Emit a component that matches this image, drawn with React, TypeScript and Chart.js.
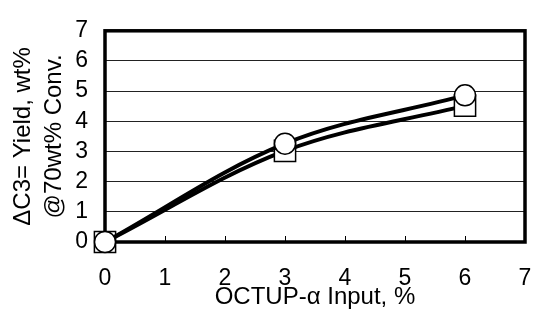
import React, { useEffect, useRef } from "react";
import { Chart, registerables } from "chart.js";

Chart.register(...registerables);

const xValues = [0, 3, 6];
const circleSeries = [0, 3.26, 4.86];
const squareSeries = [0, 3.02, 4.52];
const xTicks = [0, 1, 2, 3, 4, 5, 6, 7];
const yTicks = [0, 1, 2, 3, 4, 5, 6, 7];
const xTitle = "OCTUP-α Input, %";
const yTitle = ["ΔC3= Yield, wt%", "@70wt% Conv."];

const FONT = "'Liberation Sans', Arial, sans-serif";

const framePlugin = {
  id: "frame",
  beforeDatasetsDraw(chart: any) {
    const { ctx, chartArea } = chart;
    const { left, top, right, bottom } = chartArea;
    const xs = chart.scales.x;
    ctx.save();
    ctx.strokeStyle = "#000";
    ctx.lineWidth = 1;
    for (const v of xTicks) {
      const px = Math.round(xs.getPixelForValue(v)) + 0.5;
      ctx.beginPath();
      ctx.moveTo(px, bottom);
      ctx.lineTo(px, bottom - 6);
      ctx.stroke();
    }
    ctx.lineWidth = 3.5;
    ctx.strokeRect(left, top, right - left, bottom - top);
    ctx.restore();
  },
};

export default function App() {
  const ref = useRef<HTMLCanvasElement>(null);
  useEffect(() => {
    if (!ref.current) return;
    const toPts = (ys: number[]) => xValues.map((x, i) => ({ x, y: ys[i] }));
    const chart = new Chart(ref.current, {
      type: "line",
      data: {
        datasets: [
          {
            data: toPts(circleSeries),
            borderColor: "#000",
            borderWidth: 4,
            tension: 0.35,
            pointStyle: "circle",
            pointRadius: 10.5,
            pointBorderWidth: 1.5,
            pointBackgroundColor: "#fff",
            pointBorderColor: "#000",
            clip: false as any,
          },
          {
            data: toPts(squareSeries),
            borderColor: "#000",
            borderWidth: 4,
            tension: 0.35,
            pointStyle: "rect",
            pointRadius: 15,
            pointBorderWidth: 1.5,
            pointBackgroundColor: "#fff",
            pointBorderColor: "#000",
            clip: false as any,
          },
        ],
      },
      options: {
        responsive: false,
        animation: false,
        layout: { autoPadding: false, padding: { left: 0, right: 8, top: 21, bottom: 0 } },
        plugins: { legend: { display: false }, tooltip: { enabled: false } },
        scales: {
          x: {
            type: "linear",
            min: 0,
            max: 7,
            afterBuildTicks: (s: any) => {
              s.ticks = xTicks.map((v) => ({ value: v }));
            },
            afterFit: (s: any) => {
              s.height = 67;
            },
            grid: {
              display: true,
              drawOnChartArea: false,
              drawTicks: true,
              tickLength: 23,
              tickColor: "rgba(0,0,0,0)",
            },
            border: { display: false },
            ticks: {
              color: "#000",
              padding: 0,
              font: { family: FONT, size: 23 },
              maxRotation: 0,
              autoSkip: false,
            },
            title: {
              display: true,
              text: xTitle,
              color: "#000",
              font: { family: FONT, size: 24, lineHeight: 1 },
              padding: { top: 0, bottom: 0 },
            },
          },
          y: {
            type: "linear",
            min: 0,
            max: 7,
            afterBuildTicks: (s: any) => {
              s.ticks = yTicks.map((v) => ({ value: v }));
            },
            afterFit: (s: any) => {
              s.width = 105;
            },
            grid: { display: true, drawTicks: false, color: "#222", lineWidth: 1 },
            border: { display: false },
            ticks: {
              color: "#000",
              padding: 17,
              font: { family: FONT, size: 23 },
              autoSkip: false,
            },
            title: {
              display: true,
              text: yTitle,
              color: "#000",
              font: { family: FONT, size: 24, lineHeight: "31px" as any },
              padding: { top: 8, bottom: 0 },
            },
          },
        },
      },
      plugins: [framePlugin],
    });
    return () => chart.destroy();
  }, []);
  return (
    <div style={{ position: "fixed", left: 0, top: 0, width: 533, height: 309, background: "#fff" }}>
      <canvas ref={ref} width={533} height={309} />
    </div>
  );
}
